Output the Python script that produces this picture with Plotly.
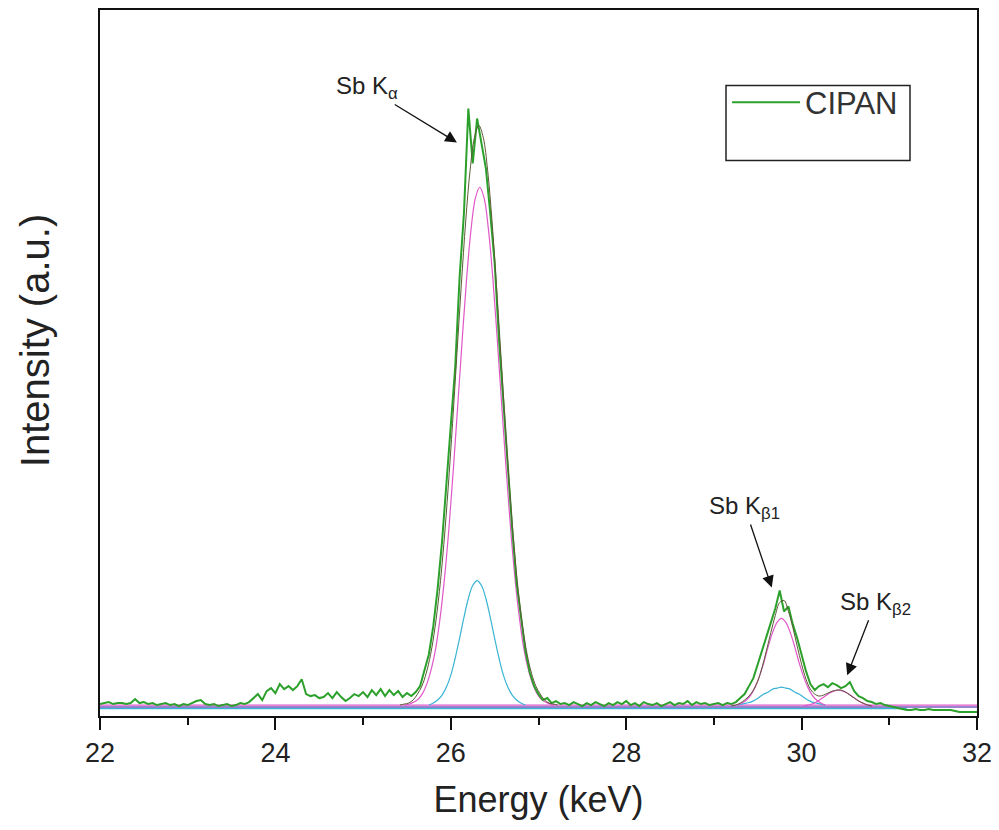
import numpy as np
import plotly.graph_objects as go

# ---------------- data ----------------
# measured spectrum, 22.00 .. 32.00 keV in 0.05 keV channels
energy_start = 22.0
energy_step = 0.05
raw_intensity = [
    2, 3, 4, 2, 3, 3, 2, 3, 7, 3, 4, 2, 3, 1, 2, 3, 1, 2, 0, 2,                   # 22.00-22.95
    1, 3, 5, 6, 2, 1, 2, 0, 1, 2, 0, 1, 3, 2, 4, 8, 12, 6, 15, 18,                # 23.00-23.95
    13, 22, 17, 20, 16, 20, 27, 12, 10, 11, 8, 9, 13, 8, 14, 9, 5, 8, 12, 10,     # 24.00-24.95
    14, 9, 16, 11, 17, 10, 16, 11, 15, 9, 13, 10, 14, 20, 35, 52, 80, 118, 165, 225,  # 25.00-25.95
    290, 340, 430, 495, 600, 545, 590, 565, 540, 495, 445, 368, 305, 232, 178, 124, 88, 56, 34, 20,  # 26.00-26.95
    12, 6, 8, 3, 5, 2, 3, 1, 4, 2, 0, 3, 1, 4, 2, 0, 3, 1, 4, 2,                  # 27.00-27.95
    5, 1, 3, 0, 4, 2, 1, 3, 0, 2, 4, 1, 3, 2, 5, 1, 4, 2, 3, 1,                   # 28.00-28.95
    2, 3, 1, 3, 2, 4, 8, 12, 20, 28, 42, 55, 70, 84, 98, 116, 95, 100, 82, 68,    # 29.00-29.95
    50, 35, 22, 16, 20, 22, 19, 23, 21, 18, 20, 24, 15, 10, 8, 5, 4, 2, 3, 1,     # 30.00-30.95
    0, -1, -2, -3, -4, -4, -3, -4, -4, -3, -4, -4, -4, -4, -4, -5, -6, -6, -6, -6,  # 31.00-31.95
    -6,                                                                           # 32.00
]

# cumulative fit (dark line), Ka region and Kb region
fit_ka_start = 25.42
fit_ka = [1, 2, 3, 6, 12, 20, 33, 52, 79, 115, 162, 219, 284, 354, 423, 487, 538, 571, 583,
          571, 538, 487, 423, 354, 284, 219, 162, 115, 79, 52, 33, 20, 12, 6, 3, 2, 1]
fit_kb_start = 29.20
fit_kb = [0, 1, 3, 6, 10, 16, 25, 39, 56, 74, 91, 104, 106, 95, 79, 60, 42, 27, 17, 12,
          10, 11, 13, 15, 16, 16, 14, 11, 8, 5, 3, 1, 0]

# fitted peak components (pink)
pink_ka_start = 25.48
pink_ka = [1, 2, 4, 7, 13, 23, 38, 59, 90, 130, 180, 239, 303, 368, 429, 478, 510, 521,
           510, 478, 429, 368, 303, 239, 180, 130, 90, 59, 38, 23, 13, 7, 4, 2, 1]
pink_kb1_start = 29.27
pink_kb1 = [1, 3, 6, 11, 19, 30, 44, 60, 74, 84, 88, 84, 74, 60, 44, 30, 19, 11, 6, 3, 1]
pink_kb2_start = 30.02
pink_kb2 = [0, 1, 2, 4, 7, 10, 13, 15, 16, 15, 13, 10, 7, 4, 2, 1, 0]

# fitted peak components (cyan)
cyan_ka_start = 25.75
cyan_ka = [1, 3, 6, 11, 19, 31, 48, 68, 89, 108, 121, 126, 121, 108, 89, 68, 48, 31, 19, 11, 6, 3, 1]
cyan_kb_start = 29.27
cyan_kb = [1, 2, 3, 4, 6, 9, 12, 14, 17, 18, 19, 18, 17, 14, 12, 9, 6, 4, 3, 2, 1]

# baselines
baseline_x = [22, 32]
baseline_purple = [-1, -1]
cyan_base_x = [22, 31.2]
cyan_base = [-2.5, -2.5]
pink_base_x = [22, 32]
pink_base = [1, 1]

x_ticks = [22, 24, 26, 28, 30, 32]
series_name = "CIPAN"


def grid(start, vals, step=0.05):
    return np.round(start + step * np.arange(len(vals)), 3)


# ---------------- figure ----------------
GREEN = "#2ba02b"
DARK = "#5b5b35"
PINK = "#e058c8"
CYAN = "#3ab4d4"
PURPLE = "#7a5cc0"
FONT = "Arial, Liberation Sans, sans-serif"

fig = go.Figure()

fig.add_trace(go.Scatter(x=cyan_base_x, y=cyan_base, mode="lines",
                         line=dict(color=CYAN, width=1.5), showlegend=False, hoverinfo="skip"))
fig.add_trace(go.Scatter(x=pink_base_x, y=pink_base, mode="lines",
                         line=dict(color=PINK, width=1.2), showlegend=False, hoverinfo="skip"))
fig.add_trace(go.Scatter(x=baseline_x, y=baseline_purple, mode="lines",
                         line=dict(color=PURPLE, width=1.6), showlegend=False, hoverinfo="skip"))

for start, vals in [(cyan_ka_start, cyan_ka), (cyan_kb_start, cyan_kb)]:
    fig.add_trace(go.Scatter(x=grid(start, vals), y=vals, mode="lines", line_shape="spline",
                             line=dict(color=CYAN, width=1.2), showlegend=False))
for start, vals in [(pink_ka_start, pink_ka), (pink_kb1_start, pink_kb1), (pink_kb2_start, pink_kb2)]:
    fig.add_trace(go.Scatter(x=grid(start, vals), y=vals, mode="lines", line_shape="spline",
                             line=dict(color=PINK, width=1.2), showlegend=False))

fig.add_trace(go.Scatter(x=grid(energy_start, raw_intensity, energy_step), y=raw_intensity,
                         mode="lines", name=series_name, line=dict(color=GREEN, width=2)))

for start, vals in [(fit_ka_start, fit_ka), (fit_kb_start, fit_kb)]:
    fig.add_trace(go.Scatter(x=grid(start, vals), y=vals, mode="lines", line_shape="spline",
                             line=dict(color=DARK, width=1), showlegend=False))

# ---------------- annotations (label + arrow) ----------------
ann_font = dict(family=FONT, size=24, color="#222222")
peak_labels = [  # text, arrow head (data), text centre offset (px)
    ("Sb K<sub>α</sub>", 26.07, 566, -90, -55),
    ("Sb K<sub>β1</sub>", 29.66, 119, -27, -80),
    ("Sb K<sub>β2</sub>", 30.52, 31, 28, -72),
]
for text, x, y, ax, ay in peak_labels:
    fig.add_annotation(x=x, y=y, ax=ax, ay=ay, text=text, showarrow=True, font=ann_font,
                       arrowhead=2, arrowsize=1.8, arrowwidth=1.3, arrowcolor="#111111")

# y-axis title placed as rotated text
fig.add_annotation(xref="paper", yref="paper", x=-0.074, y=0.531, text="Intensity (a.u.)",
                   textangle=-90, showarrow=False, xanchor="center", yanchor="middle",
                   font=dict(family=FONT, size=40, color="#222222"))

# legend frame
fig.add_shape(type="rect", xref="paper", yref="paper",
              x0=0.7138, x1=0.9236, y0=0.787, y1=0.893,
              line=dict(color="#222222", width=1.5), fillcolor="rgba(0,0,0,0)")

fig.update_layout(
    width=991, height=822,
    margin=dict(l=92, r=22, t=0, b=114),
    paper_bgcolor="white", plot_bgcolor="white",
    font=dict(family=FONT, color="#222222"),
    showlegend=True,
    legend=dict(x=0.715, y=0.907, xanchor="left", yanchor="top",
                bgcolor="rgba(0,0,0,0)", borderwidth=0, itemwidth=68,
                font=dict(family=FONT, size=31, color="#333333")),
    xaxis=dict(range=[22, 32], tickvals=x_ticks, ticks="outside", ticklen=12, tickwidth=1.5,
               tickcolor="#111111", showline=True, linecolor="#111111", linewidth=1.5, mirror=True,
               showgrid=False, zeroline=False,
               tickfont=dict(family=FONT, size=27, color="#222222"),
               minor=dict(dtick=1, ticks="outside", ticklen=7, tickwidth=1.5, tickcolor="#111111"),
               title=dict(text="Energy (keV)", font=dict(family=FONT, size=36, color="#222222"),
                          standoff=20)),
    yaxis=dict(range=[-10, 699], showticklabels=False, ticks="", showline=True,
               linecolor="#111111", linewidth=1.5, mirror=True, showgrid=False, zeroline=False,
               automargin=False),
)

fig.write_html("out.html")
